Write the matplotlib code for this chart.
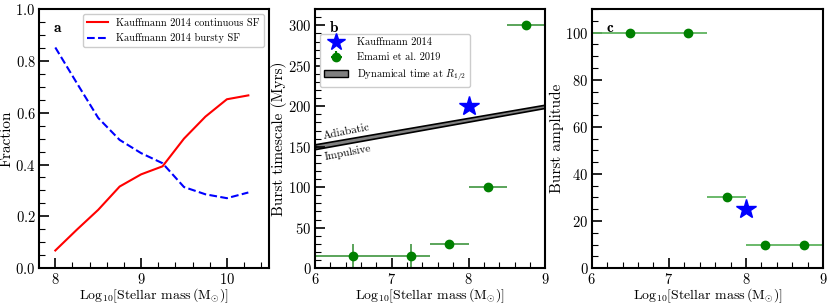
import matplotlib
matplotlib.use("Agg")
import matplotlib.pyplot as plt
from matplotlib.patches import Patch
from matplotlib.lines import Line2D
from matplotlib.ticker import MultipleLocator

plt.rcParams['font.family'] = ['cmr10', 'DejaVu Serif']
plt.rcParams['mathtext.fontset'] = 'cm'
plt.rcParams['axes.formatter.use_mathtext'] = True

# Panel a data
mass_a = [8.0, 8.25, 8.5, 8.75, 9.0, 9.25, 9.5, 9.75, 10.0, 10.25]
frac_cont = [0.068, 0.148, 0.225, 0.315, 0.362, 0.393, 0.50, 0.585, 0.652, 0.667]
frac_burst = [0.852, 0.715, 0.58, 0.495, 0.444, 0.405, 0.313, 0.285, 0.27, 0.292]

# Panel b/c data
emami_mass = [6.5, 7.25, 7.75, 8.25, 8.75]
emami_mass_err = [0.5, 0.25, 0.25, 0.25, 0.25]
emami_timescale = [15, 15, 30, 100, 300]
emami_timescale_err = [15, 15, 0, 0, 0]
emami_amplitude = [100, 100, 30, 10, 10]
kauff_mass = [8.0]
kauff_timescale = [200]
kauff_amplitude = [25]

dyn_mass = [6.0, 9.0]
dyn_low = [147, 198]
dyn_high = [153, 202]

xlabel = r'Log$_{10}$[Stellar mass$\,(\mathrm{M}_{\odot})$]'
XLABEL_FS = 10
YLABEL_FS = 11
TICK_FS = 10.5

fig = plt.figure(figsize=(8.3, 3.05), dpi=100)
axa = fig.add_axes([0.047, 0.121, 0.277, 0.849])
axb = fig.add_axes([0.3795, 0.121, 0.2775, 0.849])
axc = fig.add_axes([0.713, 0.121, 0.2786, 0.849])

def style(ax):
    for s in ax.spines.values():
        s.set_linewidth(1.5)
    ax.tick_params(which='both', direction='in', top=False, right=False, labelsize=TICK_FS, pad=2.5)
    ax.tick_params(which='major', length=7, width=1.2)
    ax.tick_params(which='minor', length=4, width=0.8)

# Panel a
axa.plot(mass_a, frac_cont, color='red', lw=1.5, label='Kauffmann 2014 continuous SF')
axa.plot(mass_a, frac_burst, color='blue', lw=1.5, ls='--', label='Kauffmann 2014 bursty SF')
axa.set_xlim(7.81, 10.49)
axa.set_ylim(0, 1.0)
axa.xaxis.set_major_locator(MultipleLocator(1))
axa.xaxis.set_minor_locator(MultipleLocator(0.2))
axa.yaxis.set_major_locator(MultipleLocator(0.2))
axa.yaxis.set_minor_locator(MultipleLocator(0.05))
axa.set_xlabel(xlabel, fontsize=XLABEL_FS, labelpad=0)
axa.set_ylabel('Fraction', fontsize=YLABEL_FS, labelpad=1)
axa.text(0.06, 0.91, r'$\mathbf{a}$', transform=axa.transAxes, fontsize=11)
axa.legend(loc='upper right', fontsize=7.5, framealpha=1, edgecolor='#cccccc', fancybox=True)
style(axa)

# Panel b
axb.fill_between(dyn_mass, dyn_low, dyn_high, facecolor='grey', edgecolor='black', lw=1.2)
axb.errorbar(emami_mass, emami_timescale, xerr=emami_mass_err, yerr=emami_timescale_err,
             fmt='o', color='green', ms=6, ecolor='#2e8b2e', elinewidth=1.1, capsize=0)
axb.plot(kauff_mass, kauff_timescale, marker='*', color='blue', ms=15, ls='none')
axb.set_xlim(6, 9)
axb.set_ylim(0, 320)
axb.xaxis.set_major_locator(MultipleLocator(1))
axb.xaxis.set_minor_locator(MultipleLocator(0.2))
axb.yaxis.set_major_locator(MultipleLocator(50))
axb.yaxis.set_minor_locator(MultipleLocator(10))
axb.set_xlabel(xlabel, fontsize=XLABEL_FS, labelpad=0)
axb.set_ylabel('Burst timescale (Myrs)', fontsize=YLABEL_FS, labelpad=1)
axb.text(0.06, 0.91, r'$\mathbf{b}$', transform=axb.transAxes, fontsize=11)
axb.text(6.12, 157, 'Adiabatic', rotation=11, fontsize=8, ha='left', va='bottom',
         rotation_mode='anchor')
axb.text(6.12, 143, 'Impulsive', rotation=11, fontsize=8, ha='left', va='top',
         rotation_mode='anchor')
eb = axb.errorbar([], [], xerr=[], yerr=[], fmt='o', color='green', ms=6, ecolor='green')
handles = [
    Line2D([], [], marker='*', color='blue', ms=13, ls='none'),
    eb,
    Patch(facecolor='grey', edgecolor='black'),
]
axb.legend(handles, ['Kauffmann 2014', 'Emami et al. 2019', r'Dynamical time at $R_{1/2}$'],
           loc='upper left', bbox_to_anchor=(0.0, 0.925), fontsize=7.5, framealpha=1,
           edgecolor='#cccccc', fancybox=True, handlelength=2.3)
style(axb)

# Panel c
axc.errorbar(emami_mass, emami_amplitude, xerr=emami_mass_err,
             fmt='o', color='green', ms=6, ecolor='#5fb35f', elinewidth=1.3, capsize=0)
axc.plot(kauff_mass, kauff_amplitude, marker='*', color='blue', ms=15, ls='none')
axc.set_xlim(6, 9)
axc.set_ylim(0, 110)
axc.xaxis.set_major_locator(MultipleLocator(1))
axc.xaxis.set_minor_locator(MultipleLocator(0.2))
axc.yaxis.set_major_locator(MultipleLocator(20))
axc.yaxis.set_minor_locator(MultipleLocator(5))
axc.set_xlabel(xlabel, fontsize=XLABEL_FS, labelpad=0)
axc.set_ylabel('Burst amplitude', fontsize=YLABEL_FS, labelpad=1)
axc.text(0.06, 0.91, r'$\mathbf{c}$', transform=axc.transAxes, fontsize=11)
style(axc)

fig.savefig('out.png', dpi=100)
